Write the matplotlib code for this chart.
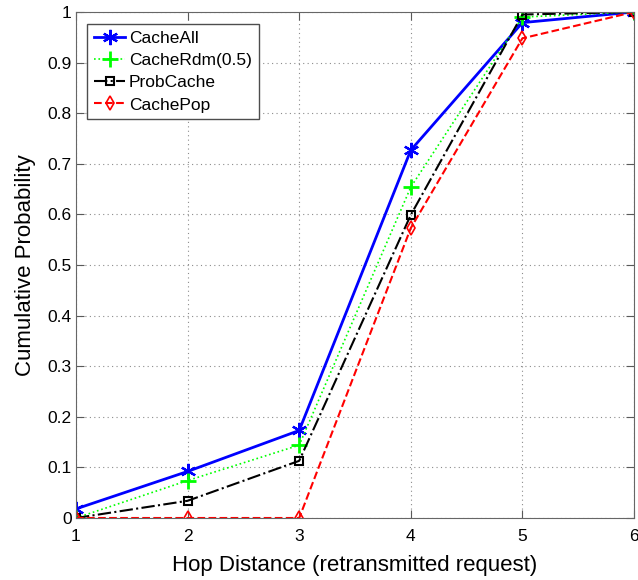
import matplotlib
matplotlib.use("Agg")
import matplotlib.pyplot as plt

plt.rcParams['font.family'] = ['Liberation Sans', 'DejaVu Sans']

hops = [1, 2, 3, 4, 5, 6]
cache_all = [0.018, 0.092, 0.173, 0.727, 0.979, 1.0]
cache_rdm = [0.0, 0.074, 0.144, 0.654, 0.99, 1.0]
prob_cache = [0.0, 0.034, 0.113, 0.599, 0.995, 1.0]
cache_pop = [0.0, 0.0, 0.0, 0.573, 0.948, 1.0]

x_ticks = [1, 2, 3, 4, 5, 6]
y_ticks = [0, 0.1, 0.2, 0.3, 0.4, 0.5, 0.6, 0.7, 0.8, 0.9, 1]
y_labels = ['0', '0.1', '0.2', '0.3', '0.4', '0.5', '0.6', '0.7', '0.8', '0.9', '1']

fig = plt.figure(figsize=(6.38, 5.8), dpi=100)
ax = fig.add_axes([76 / 638, 62 / 580, 558 / 638, 506 / 580])

# MATLAB style asterisk
ax.plot(hops, cache_all, color='#0000ff', linestyle='-', linewidth=2,
        marker=(6, 2, 0), markersize=11, markeredgewidth=1.6, label='CacheAll')
ax.plot(hops, cache_rdm, color='#00ff00', linestyle=':', linewidth=1.2,
        marker='+', markersize=11, markeredgewidth=2, label='CacheRdm(0.5)')
ax.plot(hops, prob_cache, color='black', linestyle='-.', linewidth=1.5,
        marker='s', markersize=6, markerfacecolor='none', markeredgewidth=1.5,
        label='ProbCache')
ax.plot(hops, cache_pop, color='#ff0000', linestyle='--', linewidth=1.5,
        marker='d', markersize=7, markerfacecolor='none', markeredgewidth=1.2,
        label='CachePop')

ax.set_xlim(1, 6)
ax.set_ylim(0, 1)
ax.set_xticks(x_ticks)
ax.set_yticks(y_ticks)
ax.set_yticklabels(y_labels)
ax.tick_params(direction='in', top=True, right=True, labelsize=12.5, length=6,
               color='0.35')
ax.tick_params(axis='x', pad=8)
ax.tick_params(axis='y', pad=3)
for s in ax.spines.values():
    s.set_color('0.4')
ax.grid(True, linestyle=(0, (1, 3)), color='0.55', linewidth=0.8)

ax.set_xlabel('Hop Distance (retransmitted request)', fontsize=16, labelpad=8)
ax.set_ylabel('Cumulative Probability', fontsize=16, labelpad=8)

leg = ax.legend(loc='upper left', bbox_to_anchor=(0.02, 0.976), fontsize=12.5,
                fancybox=False, framealpha=1, edgecolor='0.3',
                handlelength=1.8, handletextpad=0.2, borderpad=0.4,
                labelspacing=0.4, borderaxespad=0)
leg.get_frame().set_linewidth(1)

fig.savefig('out.png', dpi=100)
